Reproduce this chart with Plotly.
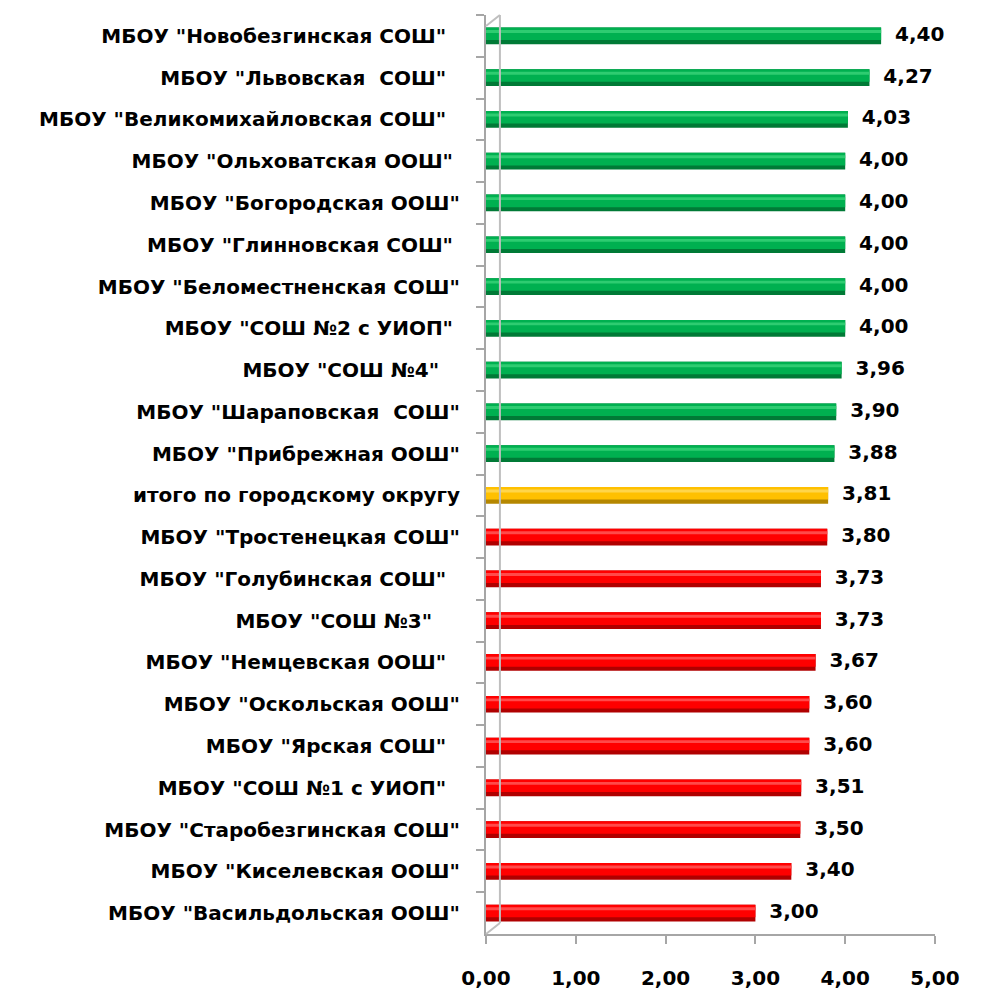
import plotly.graph_objects as go

NB = '\u00a0'
schools = [
    'МБОУ "Новобезгинская СОШ"' + NB * 2,
    'МБОУ "Львовская  СОШ"' + NB * 2,
    'МБОУ "Великомихайловская СОШ"' + NB * 2,
    'МБОУ "Ольховатская ООШ"' + NB * 1,
    'МБОУ "Богородская ООШ"',
    'МБОУ "Глинновская СОШ"' + NB * 1,
    'МБОУ "Беломестненская СОШ"',
    'МБОУ "СОШ №2 с УИОП"' + NB * 1,
    'МБОУ "СОШ №4"' + NB * 3,
    'МБОУ "Шараповская  СОШ"',
    'МБОУ "Прибрежная ООШ"',
    'итого по городскому округу',
    'МБОУ "Тростенецкая СОШ"',
    'МБОУ "Голубинская СОШ"' + NB * 2,
    'МБОУ "СОШ №3"' + NB * 4,
    'МБОУ "Немцевская ООШ"' + NB * 2,
    'МБОУ "Оскольская ООШ"',
    'МБОУ "Ярская СОШ"' + NB * 2,
    'МБОУ "СОШ №1 с УИОП"' + NB * 2,
    'МБОУ "Старобезгинская СОШ"',
    'МБОУ "Киселевская ООШ"',
    'МБОУ "Васильдольская ООШ"',
]
scores = [4.40, 4.27, 4.03, 4.00, 4.00, 4.00, 4.00, 4.00, 3.96, 3.90, 3.88,
          3.81, 3.80, 3.73, 3.73, 3.67, 3.60, 3.60, 3.51, 3.50, 3.40, 3.00]
group = ['above'] * 11 + ['total'] + ['below'] * 10
x_ticks = [0, 1, 2, 3, 4, 5]

base_col = {'above': '#007A36', 'total': '#B58700', 'below': '#B00000'}
main_col = {'above': '#00B050', 'total': '#FFC000', 'below': '#FF0000'}
hi_col = {'above': '#2ECC71', 'total': '#FFD54A', 'below': '#FF4A4A'}

FONT = 'DejaVu Sans'
n = len(schools)

fig = go.Figure()
fig.add_trace(go.Bar(
    y=schools, x=scores, orientation='h', width=0.40,
    marker=dict(color=[base_col[g] for g in group], line=dict(width=0)),
    hoverinfo='skip', showlegend=False,
))
fig.add_trace(go.Bar(
    y=schools, x=scores, orientation='h', width=0.30, offset=-0.20,
    marker=dict(color=[main_col[g] for g in group], line=dict(width=0)),
    hoverinfo='skip', showlegend=False,
))
fig.add_trace(go.Bar(
    y=schools, x=scores, orientation='h', width=0.07, offset=-0.14,
    marker=dict(color=[hi_col[g] for g in group], line=dict(width=0)),
    hoverinfo='skip', showlegend=False,
))
fig.add_trace(go.Scatter(
    y=schools, x=scores, mode='text',
    text=[NB + NB + f'{v:.2f}'.replace('.', ',') for v in scores],
    textposition='middle right',
    textfont=dict(family=FONT, size=20, color='black', weight='bold'),
    cliponaxis=False, hoverinfo='skip', showlegend=False,
))

fig.update_layout(
    width=982, height=990,
    margin=dict(l=478, r=55, t=7, b=64),
    barmode='overlay',
    separators=', ',
    plot_bgcolor='white', paper_bgcolor='white',
    font=dict(family=FONT, size=20, color='black'),
    xaxis=dict(
        range=[0, 5], tickvals=x_ticks, tickformat='.2f',
        showgrid=False, zeroline=False,
        showline=True, linecolor='#A6A6A6', linewidth=2,
        ticks='outside', ticklen=8, tickcolor='#A6A6A6', tickwidth=2,
        tickfont=dict(family=FONT, size=20, weight='bold'),
        ticklabelstandoff=17,
    ),
    yaxis=dict(
        range=[n - 0.5, -0.5], categoryorder='array', categoryarray=schools,
        showgrid=False, showline=True, linecolor='#A6A6A6', linewidth=2,
        ticks='outside', ticklen=8, tickcolor='#A6A6A6', tickwidth=2,
        tickson='boundaries',
        tickfont=dict(family=FONT, size=20, weight='bold'),
        ticklabelstandoff=20,
    ),
    shapes=[
        dict(type='line', xref='paper', yref='paper', x0=0.031, x1=0.031, y0=0.012, y1=1.0,
             line=dict(color='#BFBFBF', width=2)),
        dict(type='line', xref='paper', yref='paper', x0=0.0, x1=0.031, y0=0.0, y1=0.012,
             line=dict(color='#BFBFBF', width=2)),
        dict(type='line', xref='paper', yref='paper', x0=0.0, x1=0.031, y0=0.988, y1=1.0,
             line=dict(color='#BFBFBF', width=2)),
    ],
)

fig.write_html('out.html')
